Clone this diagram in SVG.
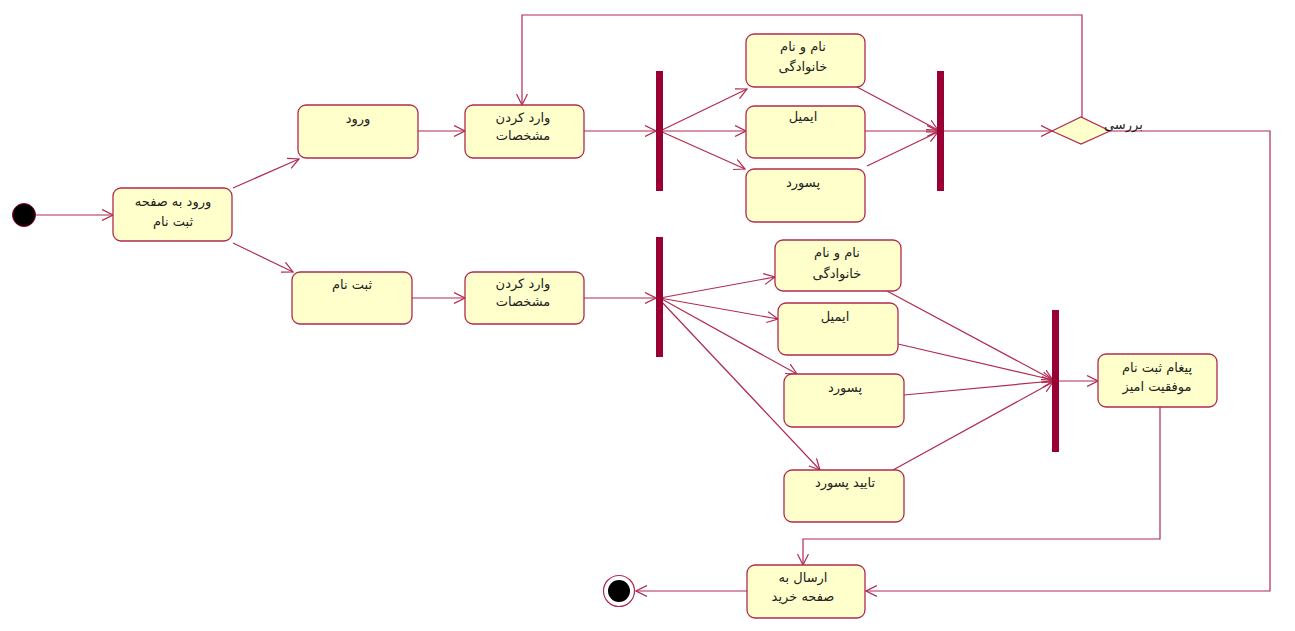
<svg xmlns="http://www.w3.org/2000/svg" width="1295" height="631" viewBox="0 0 1295 631">
<defs>
<style>
.box{fill:#FFFFCC;stroke:#B02A50;stroke-width:1.3}
.bar{fill:#990033}
.ln{fill:none;stroke:#B02A50;stroke-width:1.2}
.t{font-family:"DejaVu Sans","Noto Sans",sans-serif;font-size:13px;fill:#222;text-anchor:middle}
</style>
<marker id="ar" markerUnits="userSpaceOnUse" markerWidth="12" markerHeight="12" refX="11" refY="6" orient="auto" viewBox="0 0 12 12">
<path d="M0,0.5 L11,6 L0,11.5" fill="none" stroke="#B02A50" stroke-width="1.2"/>
</marker>
</defs>
<rect width="1295" height="631" fill="#fff"/>

<g id="connectors">
<line class="ln" x1="35" y1="215" x2="113" y2="215" marker-end="url(#ar)"/>
<line class="ln" x1="233" y1="188" x2="299" y2="159" marker-end="url(#ar)"/>
<line class="ln" x1="233" y1="243" x2="293" y2="272" marker-end="url(#ar)"/>
<line class="ln" x1="418" y1="131" x2="465" y2="131" marker-end="url(#ar)"/>
<line class="ln" x1="584" y1="131" x2="656" y2="131" marker-end="url(#ar)"/>
<line class="ln" x1="660" y1="131" x2="747" y2="89" marker-end="url(#ar)"/>
<line class="ln" x1="660" y1="131" x2="746" y2="131" marker-end="url(#ar)"/>
<line class="ln" x1="660" y1="131" x2="745" y2="169" marker-end="url(#ar)"/>
<line class="ln" x1="857" y1="87" x2="938" y2="130" marker-end="url(#ar)"/>
<line class="ln" x1="865" y1="131" x2="938" y2="131" marker-end="url(#ar)"/>
<line class="ln" x1="867" y1="166" x2="938" y2="132" marker-end="url(#ar)"/>
<line class="ln" x1="944" y1="131" x2="1052" y2="131" marker-end="url(#ar)"/>
<polyline class="ln" points="1082,117 1082,15 522,15 522,105" marker-end="url(#ar)"/>
<polyline class="ln" points="1110,131 1270,131 1270,591 866,591" marker-end="url(#ar)"/>
<line class="ln" x1="412" y1="298" x2="465" y2="298" marker-end="url(#ar)"/>
<line class="ln" x1="584" y1="298" x2="656" y2="298" marker-end="url(#ar)"/>
<line class="ln" x1="660" y1="298" x2="775" y2="277" marker-end="url(#ar)"/>
<line class="ln" x1="660" y1="298" x2="778" y2="319" marker-end="url(#ar)"/>
<line class="ln" x1="660" y1="298" x2="797" y2="374" marker-end="url(#ar)"/>
<line class="ln" x1="660" y1="300" x2="820" y2="470" marker-end="url(#ar)"/>
<line class="ln" x1="887" y1="291" x2="1053" y2="380" marker-end="url(#ar)"/>
<line class="ln" x1="898" y1="344" x2="1053" y2="380" marker-end="url(#ar)"/>
<line class="ln" x1="904" y1="395" x2="1053" y2="381" marker-end="url(#ar)"/>
<line class="ln" x1="893" y1="470" x2="1053" y2="382" marker-end="url(#ar)"/>
<line class="ln" x1="1059" y1="381" x2="1098" y2="381" marker-end="url(#ar)"/>
<polyline class="ln" points="1160,407 1160,539 803,539 803,565" marker-end="url(#ar)"/>
<line class="ln" x1="747" y1="591" x2="636" y2="591" marker-end="url(#ar)"/>
</g>

<g id="start"><circle cx="24" cy="215" r="11.5" fill="#000" stroke="#990033" stroke-width="1"/></g>

<g id="n-enter-signup"><rect class="box" x="113" y="188" width="119" height="53" rx="8"/>
<text class="t" x="173" y="206">ورود به صفحه</text><text class="t" x="173" y="226">ثبت نام</text></g>

<g id="n-login"><rect class="box" x="298" y="105" width="120" height="53" rx="8"/>
<text class="t" x="358" y="123">ورود</text></g>

<g id="n-signup"><rect class="box" x="292" y="272" width="120" height="52" rx="8"/>
<text class="t" x="352" y="289">ثبت نام</text></g>

<g id="n-enter-top"><rect class="box" x="465" y="105" width="119" height="53" rx="8"/>
<text class="t" x="523" y="122">وارد کردن</text><text class="t" x="523" y="140">مشخصات</text></g>

<g id="fork1"><rect class="bar" x="656" y="71" width="7" height="120"/></g>

<g id="n-name-top"><rect class="box" x="746" y="34" width="119" height="53" rx="8"/>
<text class="t" x="803" y="51">نام و نام</text><text class="t" x="803" y="71">خانوادگی</text></g>

<g id="n-email-top"><rect class="box" x="746" y="106" width="119" height="52" rx="8"/>
<text class="t" x="803" y="121">ایمیل</text></g>

<g id="n-pass-top"><rect class="box" x="746" y="169" width="119" height="53" rx="8"/>
<text class="t" x="803" y="187">پسورد</text></g>

<g id="join1"><rect class="bar" x="937" y="71" width="7" height="120"/></g>

<g id="decision"><polygon points="1052,131 1081,117 1110,131 1081,144" fill="#FFFFCC" stroke="#B02A50" stroke-width="1.2"/>
<text x="1104" y="129" style="font-family:'DejaVu Sans','Noto Sans',sans-serif;font-size:13px;fill:#222">بررسی</text></g>

<g id="n-enter-bottom"><rect class="box" x="465" y="272" width="119" height="52" rx="8"/>
<text class="t" x="523" y="288">وارد کردن</text><text class="t" x="523" y="306">مشخصات</text></g>

<g id="fork2"><rect class="bar" x="656" y="237" width="7" height="120"/></g>

<g id="n-name-bottom"><rect class="box" x="775" y="240" width="126" height="51" rx="8"/>
<text class="t" x="837" y="257">نام و نام</text><text class="t" x="837" y="278">خانوادگی</text></g>

<g id="n-email-bottom"><rect class="box" x="778" y="303" width="120" height="52" rx="8"/>
<text class="t" x="835" y="321">ایمیل</text></g>

<g id="n-pass-bottom"><rect class="box" x="784" y="374" width="120" height="53" rx="8"/>
<text class="t" x="845" y="392">پسورد</text></g>

<g id="n-confirm"><rect class="box" x="784" y="470" width="120" height="52" rx="8"/>
<text class="t" x="845" y="487">تایید پسورد</text></g>

<g id="join2"><rect class="bar" x="1052" y="310" width="7" height="142"/></g>

<g id="n-success"><rect class="box" x="1098" y="354" width="119" height="53" rx="8"/>
<text class="t" x="1157" y="372">پیغام ثبت نام</text><text class="t" x="1157" y="391">موفقیت امیز</text></g>

<g id="n-send"><rect class="box" x="747" y="565" width="118" height="53" rx="8"/>
<text class="t" x="803" y="582">ارسال به</text><text class="t" x="803" y="601">صفحه خرید</text></g>

<g id="end"><circle cx="619" cy="591" r="15.5" fill="#fff" stroke="#B02A50" stroke-width="1.2"/><circle cx="619" cy="591" r="11" fill="#000"/></g>
</svg>
